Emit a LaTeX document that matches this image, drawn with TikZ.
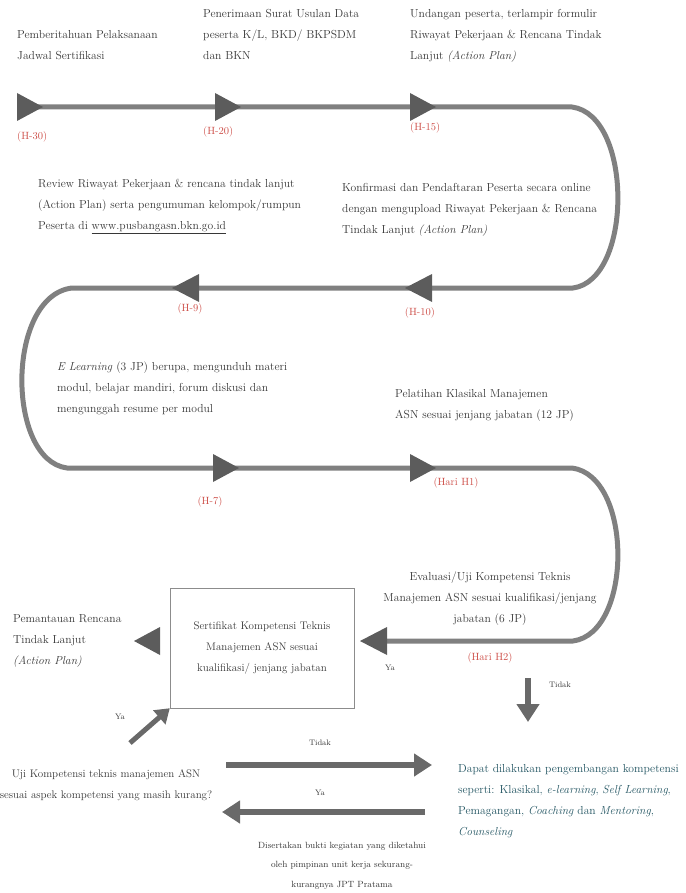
\documentclass[tikz,border=0pt]{standalone}
\usepackage{xcolor}
\usetikzlibrary{arrows.meta}
\definecolor{flowgray}{RGB}{128,128,128}
\definecolor{trigray}{RGB}{92,92,92}
\definecolor{arrowgray}{RGB}{105,105,105}
\definecolor{boxgray}{RGB}{140,140,140}
\definecolor{hred}{RGB}{205,78,72}
\definecolor{txtgray}{RGB}{55,55,55}
\definecolor{dapatteal}{RGB}{35,85,98}
\tikzset{flow/.style={flowgray, line width=5pt, line join=round},
  tri/.style={fill=trigray},
  txt/.style={anchor=north west, align=left, inner sep=0pt, text=txtgray, font=\fontsize{11.6}{21}\selectfont},
  ctxt/.style={txt, anchor=north, align=center},
  hari/.style={text=hred, inner sep=0pt, font=\fontsize{10.5}{12}\selectfont},
  small/.style={inner sep=0pt, text=txtgray, font=\fontsize{8}{10}\selectfont},
  bigarrow/.style={draw=arrowgray, line width=6pt, -{Triangle[length=18pt,width=22pt]}}}

\begin{document}
\begin{tikzpicture}[x=1pt, y=-1pt]
    \useasboundingbox (0,0) rectangle (685,893);
    %Flow line
    \draw[flow] (17,107) -- (572,107) .. controls (633,115) and (633,280) .. (573,288)
      -- (72,288) .. controls (6,296) and (6,460) .. (67,468)
      -- (572,468) .. controls (633,476) and (633,633) .. (573,641) -- (385,641);
    \foreach \x/\y in {17/107, 215/107, 410/107, 213/468, 410/468}
      \fill[tri] (\x,\y-14) -- ++(26,14) -- ++(-26,14) -- cycle;
    \foreach \x/\y in {172/288, 405/288, 360/641}
      \fill[tri] (\x,\y) -- ++(27,-14) -- ++(0,28) -- cycle;
    %Row 1
    \node[txt] (t30) at (17,30) {Pemberitahuan Pelaksanaan\\Jadwal Sertifikasi};
    \node[txt] (t20) at (203,9) {Penerimaan Surat Usulan Data\\peserta K/L, BKD/ BKPSDM\\dan BKN};
    \node[txt] (t15) at (410,9) {Undangan peserta, terlampir formulir\\Riwayat Pekerjaan \& Rencana Tindak\\Lanjut \textit{(Action Plan)}};
    \node[hari, anchor=west] (h30) at (17,137) {(H-30)};
    \node[hari, anchor=west] (h20) at (203,132) {(H-20)};
    \node[hari, anchor=west] (h15) at (410,128) {(H-15)};
    %Row 2
    \node[txt] (t9) at (38,179) {Review Riwayat Pekerjaan \& rencana tindak lanjut\\(Action Plan) serta pengumuman kelompok/rumpun\\Peserta di \underline{www.pusbangasn.bkn.go.id}};
    \node[txt] (t10) at (342,183) {Konfirmasi dan Pendaftaran Peserta secara online\\dengan mengupload Riwayat Pekerjaan \& Rencana\\Tindak Lanjut \textit{(Action Plan)}};
    \node[hari] (h9) at (190,309) {(H-9)};
    \node[hari] (h10) at (420,313) {(H-10)};
    %Row 3
    \node[txt] (t7) at (57,362) {\textit{E Learning} (3 JP) berupa, mengunduh materi\\modul, belajar mandiri, forum diskusi dan\\mengunggah resume per modul};
    \node[txt] (th1) at (395,389) {Pelatihan Klasikal Manajemen\\ASN sesuai jenjang jabatan (12 JP)};
    \node[hari] (h7) at (210,502) {(H-7)};
    \node[hari] (hh1) at (456,483) {(Hari H1)};
    %Row 4
    \node[ctxt] (th2) at (490,572) {Evaluasi/Uji Kompetensi Teknis\\Manajemen ASN sesuai kualifikasi/jenjang\\jabatan (6 JP)};
    \node[hari] (hh2) at (490,658) {(Hari H2)};
    \node[small] (ya1) at (390,668) {Ya};
    \node[draw=boxgray, minimum width=184pt, minimum height=120pt, align=center, inner sep=0pt,
      text=txtgray, font=\fontsize{11}{21}\selectfont] (sert) at (262,648)
      {Sertifikat Kompetensi Teknis\\Manajemen ASN sesuai\\kualifikasi/ jenjang jabatan};
    \fill[tri] (134,641) -- ++(26,-14) -- ++(0,28) -- cycle;
    \node[txt] (pantau) at (13,614) {Pemantauan Rencana\\Tindak Lanjut\\\textit{(Action Plan)}};
    %Bottom
    \node[small] (tidak1) at (560,685) {Tidak};
    \node[txt, text=dapatteal] (dapat) at (458,764) {Dapat dilakukan pengembangan kompetensi\\seperti: Klasikal, \textit{e-learning}, \textit{Self Learning},\\Pemagangan, \textit{Coaching} dan \textit{Mentoring},\\\textit{Counseling}};
    \node[ctxt, font=\fontsize{11}{21}\selectfont] (uji) at (106,769) {Uji Kompetensi teknis manajemen ASN\\sesuai aspek kompetensi yang masih kurang?};
    \node[small] (ya2) at (120,717) {Ya};
    \node[small] (tidak2) at (320,743) {Tidak};
    \node[small] (ya3) at (320,793) {Ya};
    \node[ctxt, font=\fontsize{9}{19.5}\selectfont] (bukti) at (342,842) {Disertakan bukti kegiatan yang diketahui\\oleh pimpinan unit kerja sekurang-\\kurangnya JPT Pratama};
    \coordinate (downs) at (528,678);
    \coordinate (downe) at (528,722);
    \coordinate (yas) at (130,743);
    \coordinate (tidaks) at (226,765);
    \coordinate (tidake) at (432,765);
    \coordinate (yaks) at (425,812);
    \coordinate (yake) at (222,812);
    \draw[bigarrow] (downs) -- (downe);
    \draw[bigarrow, line width=5pt, -{Triangle[length=14pt,width=18pt]}] (yas) -- (sert.south west);
    \draw[bigarrow] (tidaks) -- (tidake);
    \draw[bigarrow] (yaks) -- (yake);
\end{tikzpicture}
\end{document}
